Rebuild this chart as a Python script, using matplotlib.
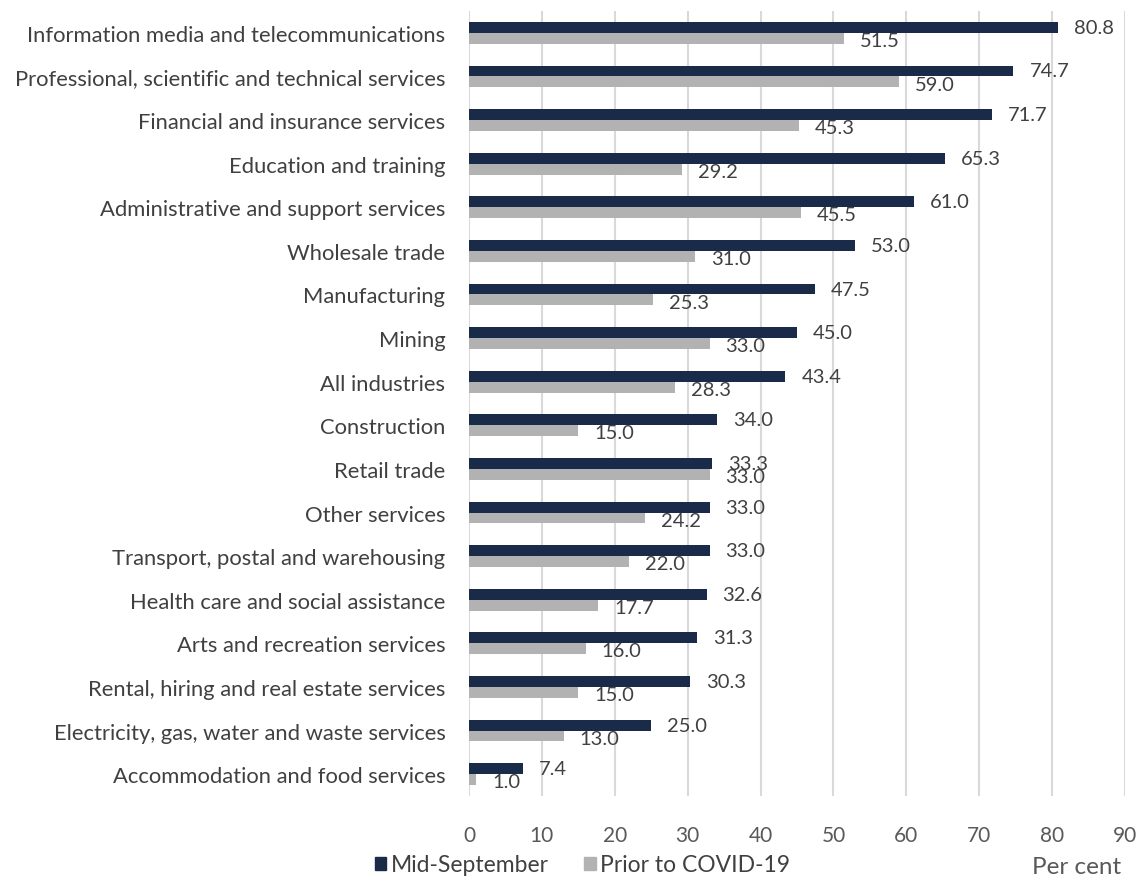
import numpy as np
import matplotlib
matplotlib.use("Agg")
import matplotlib.pyplot as plt
from matplotlib.patches import Patch

plt.rcParams['font.family'] = ['Lato', 'DejaVu Sans']

industries = [
    "Information media and telecommunications",
    "Professional, scientific and technical services",
    "Financial and insurance services",
    "Education and training",
    "Administrative and support services",
    "Wholesale trade",
    "Manufacturing",
    "Mining",
    "All industries",
    "Construction",
    "Retail trade",
    "Other services",
    "Transport, postal and warehousing",
    "Health care and social assistance",
    "Arts and recreation services",
    "Rental, hiring and real estate services",
    "Electricity, gas, water and waste services",
    "Accommodation and food services",
]
mid_september = [80.8, 74.7, 71.7, 65.3, 61.0, 53.0, 47.5, 45.0, 43.4,
                 34.0, 33.3, 33.0, 33.0, 32.6, 31.3, 30.3, 25.0, 7.4]
prior_covid = [51.5, 59.0, 45.3, 29.2, 45.5, 31.0, 25.3, 33.0, 28.3,
               15.0, 33.0, 24.2, 22.0, 17.7, 16.0, 15.0, 13.0, 1.0]
x_ticks = [0, 10, 20, 30, 40, 50, 60, 70, 80, 90]

navy = "#1a2b4a"
grey = "#b2b2b2"
txt = "#404040"

fig = plt.figure(figsize=(11.39, 8.79), dpi=100)
ax = fig.add_axes([469/1139, 1 - 797/879, (1125 - 469)/1139, (797 - 12)/879])

y = np.arange(len(industries))
h = 0.25
ax.barh(y - h/2, mid_september, height=h, color=navy, zorder=3)
ax.barh(y + h/2, prior_covid, height=h, color=grey, zorder=3)

for yi, v in zip(y, mid_september):
    ax.annotate(f"{v:.1f}", (v, yi - h/2), xytext=(11.5, 0), textcoords="offset points",
                ha="left", va="center", fontsize=14.5, color=txt)
for yi, v in zip(y, prior_covid):
    ax.annotate(f"{v:.1f}", (v, yi + h/2 + 0.05), xytext=(11.5, 0), textcoords="offset points",
                ha="left", va="center", fontsize=14.5, color=txt)

ax.set_xlim(0, 90)
ax.set_ylim(len(industries) - 0.5, -0.5)
ax.set_xticks(x_ticks)
ax.set_yticks(y)
ax.set_yticklabels(industries)
ax.tick_params(axis="x", length=0, labelsize=15, colors="#595959", pad=21)
ax.tick_params(axis="y", length=0, labelsize=15.8, labelcolor=txt, pad=17)
ax.grid(axis="x", color="#d9d9d9", linewidth=1.5, zorder=0)
for s in ax.spines.values():
    s.set_visible(False)

handles = [Patch(color=navy, label="Mid-September"), Patch(color=grey, label="Prior to COVID-19")]
fig.legend(handles=handles, loc="center left", bbox_to_anchor=(354/1139, 1 - 866/879),
           ncol=2, frameon=False, fontsize=16.5, handlelength=0.5, handleheight=0.5,
           handletextpad=0.2, columnspacing=1.55, labelcolor=txt)
fig.text(1121/1139, 1 - 868/879, "Per cent", ha="right", va="center", fontsize=17.5, color="#595959")

fig.savefig("out.png", dpi=100)
